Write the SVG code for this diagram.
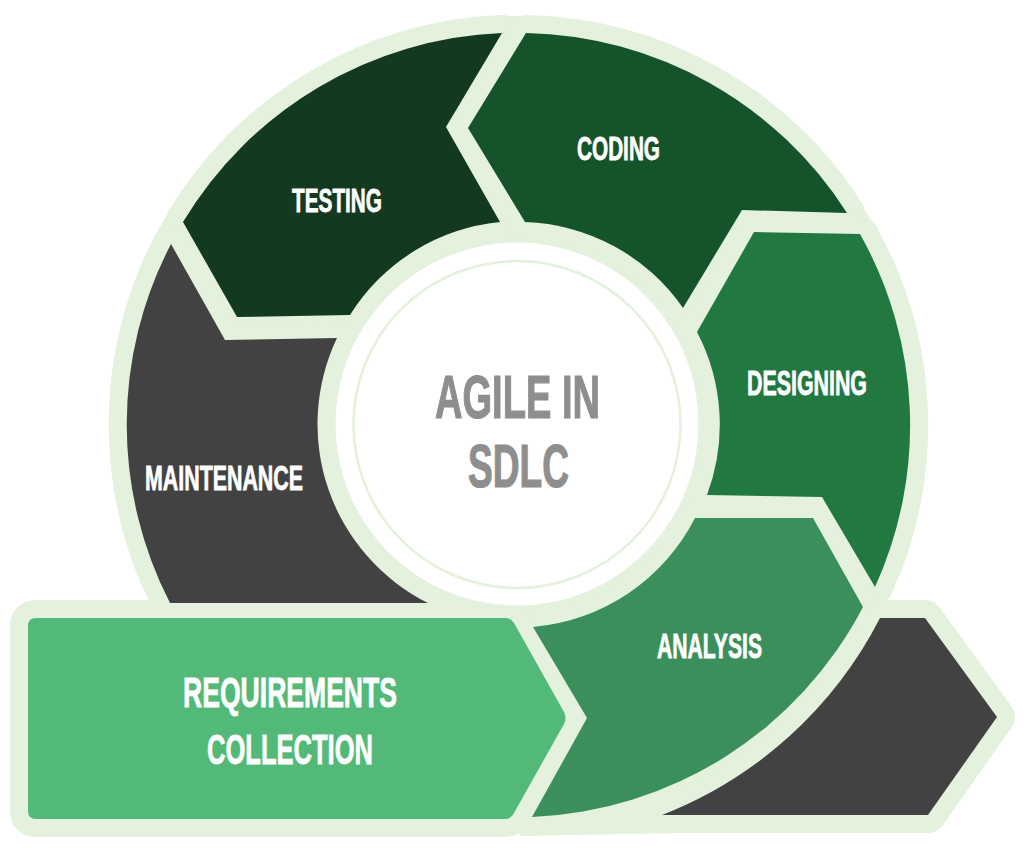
<svg xmlns="http://www.w3.org/2000/svg" width="1024" height="849" viewBox="0 0 1024 849">
<style>
.ol{fill:#e3f1dd;stroke:#e3f1dd;stroke-width:36;stroke-linejoin:round}
.lbl{font-family:"Liberation Sans",Arial,sans-serif;font-weight:bold;fill:#ffffff;stroke:#ffffff;stroke-width:0.8;text-anchor:middle}
.ctr{font-family:"Liberation Sans",Arial,sans-serif;font-weight:bold;fill:#8e8e8e;stroke:#8e8e8e;stroke-width:1.2;text-anchor:middle}
</style>
<defs>
<path id="pTesting" d="M502,33 L446,127 L500,222 A200,200 0 0 0 350,315 L237,317 L183,222 A390,390 0 0 1 502,33 Z"/>
<path id="pCoding" d="M526,33 L468,128 L525,222 A200,200 0 0 1 683,308 L742,210 L847,213 A390,390 0 0 0 526,33 Z"/>
<path id="pDesigning" d="M754,232 L860,234 A390,390 0 0 1 875,587 L822,497 L707,495 A200,200 0 0 0 697,332 Z"/>
<path id="pAnalysis" d="M695,518 L813,518 L863,607 A391,391 0 0 1 532,817 L587,718 L533,627 A201,201 0 0 0 695,518 Z"/>
<path id="pMaint" d="M171,244 L225,340 L337,338 A200,200 0 0 0 428,603 L170,603 A390,390 0 0 1 171,244 Z"/>
<path id="pReq" d="M36,618 L505,618 Q511,618 514,623 L564,712 Q567,718 564,724 L514,813 Q511,819 505,819 L36,819 Q28,819 28,811 L28,626 Q28,618 36,618 Z"/>
<path id="pArrow" d="M662,815 A414,414 0 0 0 880,618 L925,618 L997,717 L928,815 Z"/>
</defs>
<rect width="1024" height="849" fill="#ffffff"/>
<g id="backdrop">
<circle cx="517" cy="424" r="408" fill="#e3f1dd"/>
<use href="#pTesting" class="ol"/>
<use href="#pCoding" class="ol"/>
<use href="#pDesigning" class="ol"/>
<use href="#pAnalysis" class="ol"/>
<use href="#pMaint" class="ol"/>
<use href="#pReq" class="ol"/>
<use href="#pArrow" class="ol"/>
<path d="M520,795 L680,795 L680,833 L520,836 Z" fill="#e3f1dd"/>
</g>
<g id="center">
<circle cx="517" cy="424" r="181.5" fill="#ffffff"/>
<circle cx="517" cy="424.5" r="163.5" fill="none" stroke="#e3f1dd" stroke-width="2.5"/>
<text class="ctr" x="517.5" y="418" font-size="61" textLength="165" lengthAdjust="spacingAndGlyphs">AGILE IN</text>
<text class="ctr" x="518.5" y="487" font-size="61" textLength="101" lengthAdjust="spacingAndGlyphs">SDLC</text>
</g>
<g id="testing">
<use href="#pTesting" fill="#133a1f"/>
<text class="lbl" x="337" y="212" font-size="33.5" textLength="90" lengthAdjust="spacingAndGlyphs">TESTING</text>
</g>
<g id="coding">
<use href="#pCoding" fill="#15532b"/>
<text class="lbl" x="618.5" y="160" font-size="32.5" textLength="83" lengthAdjust="spacingAndGlyphs">CODING</text>
</g>
<g id="designing">
<use href="#pDesigning" fill="#217841"/>
<text class="lbl" x="807" y="395" font-size="34.5" textLength="120" lengthAdjust="spacingAndGlyphs">DESIGNING</text>
</g>
<g id="analysis">
<use href="#pAnalysis" fill="#3b8f5c"/>
<text class="lbl" x="709.5" y="658" font-size="34.5" textLength="105" lengthAdjust="spacingAndGlyphs">ANALYSIS</text>
</g>
<g id="maintenance">
<use href="#pMaint" fill="#424242"/>
<text class="lbl" x="224" y="490" font-size="34.5" textLength="158" lengthAdjust="spacingAndGlyphs">MAINTENANCE</text>
</g>
<g id="requirements">
<use href="#pReq" fill="#53b978"/>
<text class="lbl" x="290" y="707" font-size="42" textLength="214" lengthAdjust="spacingAndGlyphs">REQUIREMENTS</text>
<text class="lbl" x="290" y="764" font-size="43" textLength="166" lengthAdjust="spacingAndGlyphs">COLLECTION</text>
</g>
<g id="connectors">
<use href="#pArrow" fill="#424242"/>
</g>
</svg>
